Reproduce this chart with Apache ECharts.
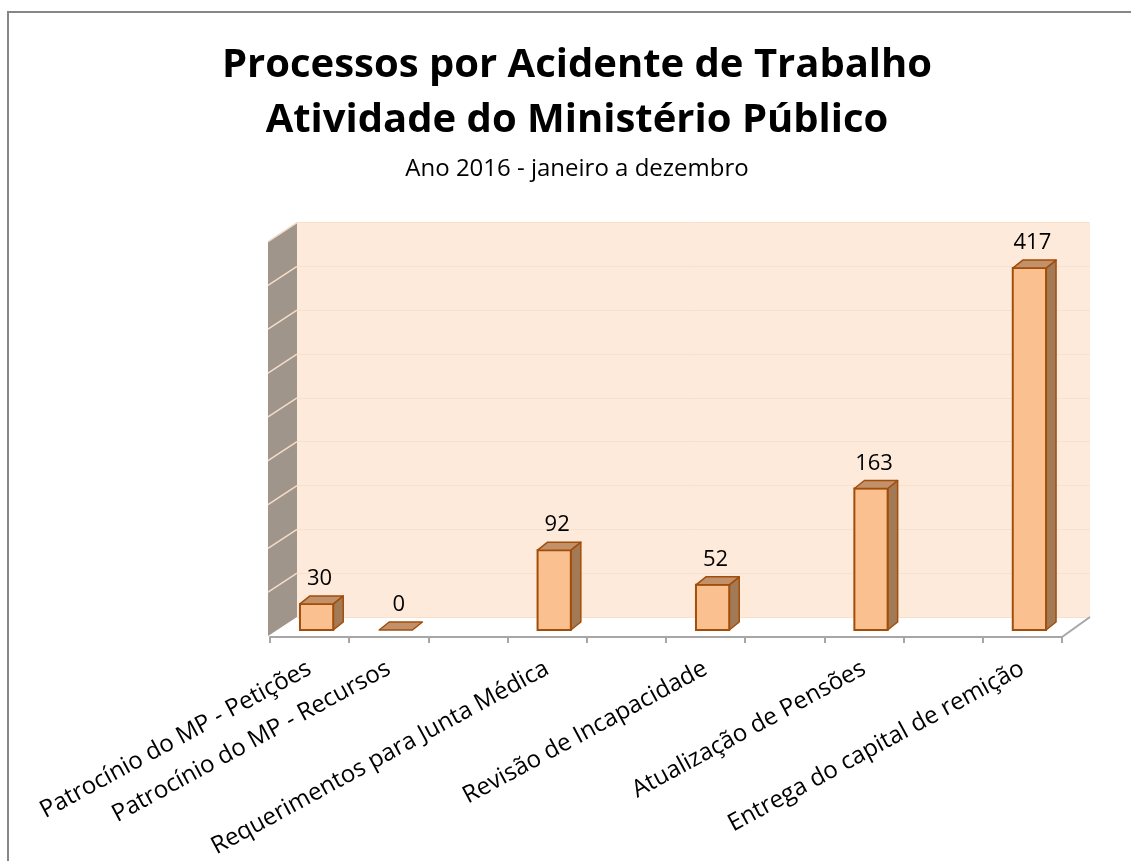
<!DOCTYPE html>
<html lang="pt">
<head>
<meta charset="UTF-8">
<title>Processos por Acidente de Trabalho</title>
<style>html,body{margin:0;padding:0;background:#fff;}</style>
</head>
<body>
<div id="chart" style="width:1131px;height:861px;"></div>
<script src="https://cdn.jsdelivr.net/npm/echarts@6/dist/echarts.min.js"></script>
<script>
  // categorias (os espaços vazios são posições sem barra, como no gráfico original)
  const categories = [
    'Patrocínio do MP - Petições',
    'Patrocínio do MP - Recursos',
    '',
    'Requerimentos para Junta Médica',
    '',
    'Revisão de Incapacidade',
    '',
    'Atualização de Pensões',
    '',
    'Entrega do capital de remição'
  ];
  const values = [30, 0, null, 92, null, 52, null, 163, null, 417];
  const yTicks = [0, 50, 100, 150, 200, 250, 300, 350, 400, 450];
  const yMax = 450;
  const yStep = 50;

  const FONT = 'Open Sans';

  // profundidade das barras e das paredes (px)
  const BAR_DX = 10, BAR_DY = -8;
  const WALL_DX = -29, WALL_DY = 19;

  function renderBar(params, api) {
    const idx = api.value(0);
    const val = api.value(1);
    const base = api.coord([idx, 0]);
    const top = api.coord([idx, val]);
    const w = api.size([1, 0])[0] * 0.42;
    const x0 = base[0] - w / 2, x1 = base[0] + w / 2;
    const yb = base[1], yt = top[1];
    const stroke = '#A24E0B';
    const children = [];
    if (val > 0) {
      children.push({
        type: 'polygon',
        shape: {points: [[x1, yt], [x1 + BAR_DX, yt + BAR_DY], [x1 + BAR_DX, yb + BAR_DY], [x1, yb]]},
        style: {fill: '#A27A55', stroke: stroke, lineWidth: 1.5, lineJoin: 'round'}
      });
      children.push({
        type: 'rect',
        shape: {x: x0, y: yt, width: w, height: yb - yt},
        style: {fill: '#FAC090', stroke: stroke, lineWidth: 2}
      });
    }
    children.push({
      type: 'polygon',
      shape: {points: [[x0, yt], [x0 + BAR_DX, yt + BAR_DY], [x1 + BAR_DX, yt + BAR_DY], [x1, yt]]},
      style: {fill: '#C2916A', stroke: stroke, lineWidth: 1.5, lineJoin: 'round'}
    });
    children.push({
      type: 'text',
      style: {
        text: String(val),
        x: base[0] + 3,
        y: yt + BAR_DY - 6,
        textAlign: 'center',
        textVerticalAlign: 'bottom',
        fontFamily: FONT,
        fontSize: 22,
        fill: '#000'
      }
    });
    return {type: 'group', children: children};
  }

  function renderFrame(params, api) {
    const cs = params.coordSys;
    const v = api.value(1);
    const y = api.coord([0, v])[1];
    const children = [];
    if (v < yMax) {
      const yn = api.coord([0, v + yStep])[1];
      children.push({
        type: 'polygon',
        shape: {points: [[cs.x, y], [cs.x, yn], [cs.x + WALL_DX, yn + WALL_DY], [cs.x + WALL_DX, y + WALL_DY]]},
        style: {fill: '#A0958B', stroke: null}
      });
    }
    if (v > 0) {
      children.push({
        type: 'line',
        shape: {x1: cs.x, y1: y, x2: cs.x + WALL_DX, y2: y + WALL_DY},
        style: {stroke: '#F4DCC8', lineWidth: 1.5}
      });
    } else {
      const xr = cs.x + cs.width;
      children.push({
        type: 'line',
        shape: {x1: xr, y1: y, x2: xr - 28, y2: y + 20},
        style: {stroke: '#A6A6A6', lineWidth: 2}
      });
    }
    return {type: 'group', children: children};
  }

  const barData = [];
  values.forEach(function (v, i) {
    if (v !== null) barData.push([i, v]);
  });

  function titleText(text, y, size, weight) {
    return {
      type: 'text', x: 577, y: y,
      style: {
        text: text, textAlign: 'center', textVerticalAlign: 'middle',
        fontFamily: FONT, fontWeight: weight, fontSize: size, fill: '#000'
      }
    };
  }

  const option = {
    animation: false,
    backgroundColor: '#fff',
    graphic: [
      {
        type: 'rect', z: -10,
        shape: {x: 8, y: 12, width: 1200, height: 900},
        style: {fill: null, stroke: '#878787', lineWidth: 2}
      },
      titleText('Processos por Acidente de Trabalho', 66, 40, 'bold'),
      titleText('Atividade do Ministério Público', 121, 40, 'bold'),
      titleText('Ano 2016 - janeiro a dezembro', 169, 24, 'normal')
    ],
    grid: [
      // parede de fundo
      {left: 297, width: 793, top: 222.6, height: 394.4, show: true, backgroundColor: '#FDEADA', borderWidth: 0},
      // eixo da frente
      {left: 270, width: 792, top: 247, height: 390},
      // plano das barras
      {left: 277, width: 792, top: 239.4, height: 390.6}
    ],
    xAxis: [
      {gridIndex: 0, type: 'category', data: categories, show: false},
      {
        gridIndex: 1, type: 'category', data: categories,
        axisLine: {show: true, lineStyle: {color: '#A6A6A6', width: 2}},
        axisTick: {show: true, interval: 0, length: 6, lineStyle: {color: '#A6A6A6', width: 2}},
        axisLabel: {show: true, interval: 0, rotate: 28.5, margin: 30, fontFamily: FONT, fontSize: 24, color: '#000'}
      },
      {gridIndex: 2, type: 'category', data: categories, show: false}
    ],
    yAxis: [
      {
        gridIndex: 0, type: 'value', min: 0, max: yMax, interval: yStep,
        axisLine: {show: false}, axisTick: {show: false}, axisLabel: {show: false},
        splitLine: {lineStyle: {color: '#F8E0CC', width: 1}}
      },
      {gridIndex: 1, type: 'value', min: 0, max: yMax, show: false, splitLine: {show: false}},
      {gridIndex: 2, type: 'value', min: 0, max: yMax, show: false, splitLine: {show: false}}
    ],
    series: [
      {
        type: 'custom', name: 'frame', xAxisIndex: 0, yAxisIndex: 0,
        renderItem: renderFrame, z: 1,
        data: yTicks.map(function (t) { return [0, t]; })
      },
      {
        type: 'custom', name: 'Processos', xAxisIndex: 2, yAxisIndex: 2,
        renderItem: renderBar, z: 5,
        data: barData
      }
    ]
  };

  const chart = echarts.init(document.getElementById('chart'));
  chart.setOption(option);
</script>
</body>
</html>
